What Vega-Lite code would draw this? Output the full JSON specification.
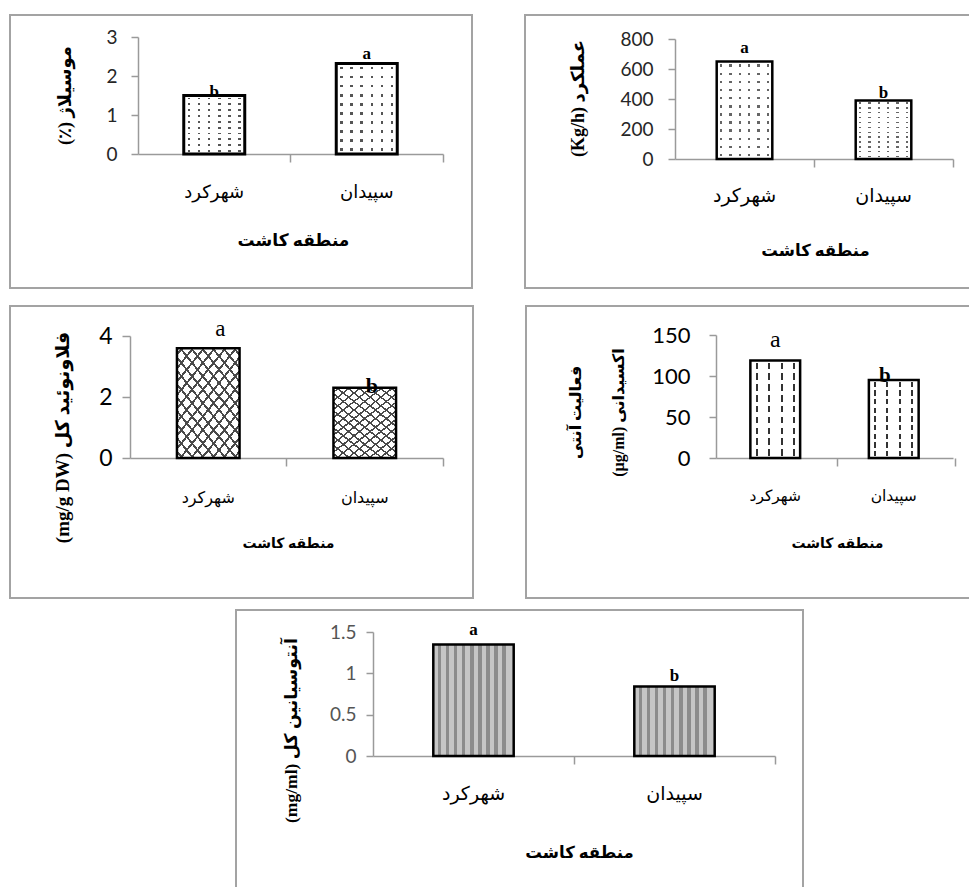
{
  "$schema": "https://vega.github.io/schema/vega-lite/v6.json",
  "padding": {"left": 9, "top": 14, "right": -3, "bottom": -4},
  "background": "white",
  "spacing": 10,
  "config": {
    "view": {"stroke": "#a3a3a3", "strokeWidth": 2},
    "axis": {"grid": false, "domainColor": "#9a9a9a", "tickColor": "#9a9a9a", "domainWidth": 1.5, "tickWidth": 1.5, "labelColor": "#262626", "titleColor": "#000", "titleFontWeight": "bold", "titleFont": "Liberation Serif, DejaVu Sans", "labelFont": "Lato", "titleAlign": "center", "titleBaseline": "middle"},
    "axisX": {"labelAngle": 0, "tickSize": 8, "labelFont": "DejaVu Sans", "labelBaseline": "middle", "labelColor": "#000", "bandPosition": 1.75},
    "axisY": {"tickSize": 7, "titleAngle": -90, "format": "~r"}
  },
  "vconcat": [
    {
      "spacing": 16,
      "vconcat": [
        {
          "spacing": 51,
          "hconcat": [
            {
              "width": 462, "height": 273,
              "data": {"values": [
                {"region": "شهرکرد", "value": 1.5, "letter": "b"},
                {"region": "سپیدان", "value": 2.32, "letter": "a"}
              ]},
              "encoding": {
                "x": {"field": "region", "type": "nominal", "sort": ["شهرکرد", "سپیدان"],
                  "scale": {"range": [128, 433], "paddingInner": 0.6, "paddingOuter": 0.3},
                  "axis": {"title": "منطقه کاشت", "offset": -134, "labelPadding": 30, "labelFontSize": 18, "titleFontSize": 17, "titleX": 283, "titleY": 86}},
                "y": {"field": "value", "type": "quantitative",
                  "scale": {"domain": [0, 3], "range": [139, 22], "nice": false},
                  "axis": {"title": "(٪) موسیلاژ", "values": [0, 1, 2, 3], "offset": -128, "labelPadding": 14, "labelFontSize": 19, "titleFontSize": 18, "titleX": -73, "titleY": 80}}
              },
              "layer": [
                {"mark": {"type": "bar", "fill": {"gradient": "linear", "x1": 0, "y1": 0, "x2": 1, "y2": 0, "stops": [
                  {"offset": 0, "color": "white"},
                  {"offset": 0.063, "color": "white"}, {"offset": 0.063, "color": "#555"}, {"offset": 0.103, "color": "#555"}, {"offset": 0.103, "color": "white"},
                  {"offset": 0.23, "color": "white"}, {"offset": 0.23, "color": "#555"}, {"offset": 0.27, "color": "#555"}, {"offset": 0.27, "color": "white"},
                  {"offset": 0.397, "color": "white"}, {"offset": 0.397, "color": "#555"}, {"offset": 0.437, "color": "#555"}, {"offset": 0.437, "color": "white"},
                  {"offset": 0.563, "color": "white"}, {"offset": 0.563, "color": "#555"}, {"offset": 0.603, "color": "#555"}, {"offset": 0.603, "color": "white"},
                  {"offset": 0.73, "color": "white"}, {"offset": 0.73, "color": "#555"}, {"offset": 0.77, "color": "#555"}, {"offset": 0.77, "color": "white"},
                  {"offset": 0.897, "color": "white"}, {"offset": 0.897, "color": "#555"}, {"offset": 0.937, "color": "#555"}, {"offset": 0.937, "color": "white"},
                  {"offset": 1, "color": "white"}]}}},
                {"mark": {"type": "bar", "stroke": "#000", "strokeWidth": 3, "fill": {"gradient": "linear", "x1": 0, "y1": 0, "x2": 0, "y2": 1, "stops": [
                  {"offset": 0, "color": "white"},
                  {"offset": 0.035, "color": "white"}, {"offset": 0.035, "color": "rgba(255,255,255,0)"}, {"offset": 0.065, "color": "rgba(255,255,255,0)"}, {"offset": 0.065, "color": "white"},
                  {"offset": 0.135, "color": "white"}, {"offset": 0.135, "color": "rgba(255,255,255,0)"}, {"offset": 0.165, "color": "rgba(255,255,255,0)"}, {"offset": 0.165, "color": "white"},
                  {"offset": 0.235, "color": "white"}, {"offset": 0.235, "color": "rgba(255,255,255,0)"}, {"offset": 0.265, "color": "rgba(255,255,255,0)"}, {"offset": 0.265, "color": "white"},
                  {"offset": 0.335, "color": "white"}, {"offset": 0.335, "color": "rgba(255,255,255,0)"}, {"offset": 0.365, "color": "rgba(255,255,255,0)"}, {"offset": 0.365, "color": "white"},
                  {"offset": 0.435, "color": "white"}, {"offset": 0.435, "color": "rgba(255,255,255,0)"}, {"offset": 0.465, "color": "rgba(255,255,255,0)"}, {"offset": 0.465, "color": "white"},
                  {"offset": 0.535, "color": "white"}, {"offset": 0.535, "color": "rgba(255,255,255,0)"}, {"offset": 0.565, "color": "rgba(255,255,255,0)"}, {"offset": 0.565, "color": "white"},
                  {"offset": 0.635, "color": "white"}, {"offset": 0.635, "color": "rgba(255,255,255,0)"}, {"offset": 0.665, "color": "rgba(255,255,255,0)"}, {"offset": 0.665, "color": "white"},
                  {"offset": 0.735, "color": "white"}, {"offset": 0.735, "color": "rgba(255,255,255,0)"}, {"offset": 0.765, "color": "rgba(255,255,255,0)"}, {"offset": 0.765, "color": "white"},
                  {"offset": 0.835, "color": "white"}, {"offset": 0.835, "color": "rgba(255,255,255,0)"}, {"offset": 0.865, "color": "rgba(255,255,255,0)"}, {"offset": 0.865, "color": "white"},
                  {"offset": 0.935, "color": "white"}, {"offset": 0.935, "color": "rgba(255,255,255,0)"}, {"offset": 0.965, "color": "rgba(255,255,255,0)"}, {"offset": 0.965, "color": "white"},
                  {"offset": 1, "color": "white"}]}}},
                {"transform": [{"filter": "datum.letter === 'a'"}],
                  "mark": {"type": "text", "font": "Liberation Serif", "fontWeight": "bold", "fontSize": 17, "baseline": "alphabetic", "dy": -5},
                  "encoding": {"text": {"field": "letter"}}},
                {"transform": [{"filter": "datum.letter === 'b'"}],
                  "mark": {"type": "text", "font": "Liberation Serif", "fontWeight": "bold", "fontSize": 17, "baseline": "alphabetic", "dy": 1},
                  "encoding": {"text": {"field": "letter"}}}
              ]
            },
            {
              "width": 446, "height": 273,
              "data": {"values": [
                {"region": "شهرکرد", "value": 650, "letter": "a"},
                {"region": "سپیدان", "value": 390, "letter": "b"}
              ]},
              "encoding": {
                "x": {"field": "region", "type": "nominal", "sort": ["شهرکرد", "سپیدان"],
                  "scale": {"range": [150, 428], "paddingInner": 0.6, "paddingOuter": 0.3},
                  "axis": {"title": "منطقه کاشت", "offset": -129, "labelPadding": 28, "labelFontSize": 19, "titleFontSize": 16.5, "titleX": 290, "titleY": 91}},
                "y": {"field": "value", "type": "quantitative",
                  "scale": {"domain": [0, 800], "range": [144, 24], "nice": false},
                  "axis": {"title": "(Kg/h) عملکرد", "values": [0, 200, 400, 600, 800], "offset": -150, "labelPadding": 15, "labelFontSize": 19, "titleFontSize": 18, "titleX": -97, "titleY": 83}}
              },
              "layer": [
                {"mark": {"type": "bar", "fill": {"gradient": "linear", "x1": 0, "y1": 0, "x2": 1, "y2": 0, "stops": [
                  {"offset": 0, "color": "white"},
                  {"offset": 0.063, "color": "white"}, {"offset": 0.063, "color": "#666"}, {"offset": 0.103, "color": "#666"}, {"offset": 0.103, "color": "white"},
                  {"offset": 0.23, "color": "white"}, {"offset": 0.23, "color": "#666"}, {"offset": 0.27, "color": "#666"}, {"offset": 0.27, "color": "white"},
                  {"offset": 0.397, "color": "white"}, {"offset": 0.397, "color": "#666"}, {"offset": 0.437, "color": "#666"}, {"offset": 0.437, "color": "white"},
                  {"offset": 0.563, "color": "white"}, {"offset": 0.563, "color": "#666"}, {"offset": 0.603, "color": "#666"}, {"offset": 0.603, "color": "white"},
                  {"offset": 0.73, "color": "white"}, {"offset": 0.73, "color": "#666"}, {"offset": 0.77, "color": "#666"}, {"offset": 0.77, "color": "white"},
                  {"offset": 0.897, "color": "white"}, {"offset": 0.897, "color": "#666"}, {"offset": 0.937, "color": "#666"}, {"offset": 0.937, "color": "white"},
                  {"offset": 1, "color": "white"}]}}},
                {"mark": {"type": "bar", "stroke": "#000", "strokeWidth": 2.5, "fill": {"gradient": "linear", "x1": 0, "y1": 0, "x2": 0, "y2": 1, "stops": [
                  {"offset": 0, "color": "white"},
                  {"offset": 0.03, "color": "white"}, {"offset": 0.03, "color": "rgba(255,255,255,0)"}, {"offset": 0.055, "color": "rgba(255,255,255,0)"}, {"offset": 0.055, "color": "white"},
                  {"offset": 0.113, "color": "white"}, {"offset": 0.113, "color": "rgba(255,255,255,0)"}, {"offset": 0.138, "color": "rgba(255,255,255,0)"}, {"offset": 0.138, "color": "white"},
                  {"offset": 0.197, "color": "white"}, {"offset": 0.197, "color": "rgba(255,255,255,0)"}, {"offset": 0.222, "color": "rgba(255,255,255,0)"}, {"offset": 0.222, "color": "white"},
                  {"offset": 0.28, "color": "white"}, {"offset": 0.28, "color": "rgba(255,255,255,0)"}, {"offset": 0.305, "color": "rgba(255,255,255,0)"}, {"offset": 0.305, "color": "white"},
                  {"offset": 0.363, "color": "white"}, {"offset": 0.363, "color": "rgba(255,255,255,0)"}, {"offset": 0.388, "color": "rgba(255,255,255,0)"}, {"offset": 0.388, "color": "white"},
                  {"offset": 0.447, "color": "white"}, {"offset": 0.447, "color": "rgba(255,255,255,0)"}, {"offset": 0.472, "color": "rgba(255,255,255,0)"}, {"offset": 0.472, "color": "white"},
                  {"offset": 0.53, "color": "white"}, {"offset": 0.53, "color": "rgba(255,255,255,0)"}, {"offset": 0.555, "color": "rgba(255,255,255,0)"}, {"offset": 0.555, "color": "white"},
                  {"offset": 0.613, "color": "white"}, {"offset": 0.613, "color": "rgba(255,255,255,0)"}, {"offset": 0.638, "color": "rgba(255,255,255,0)"}, {"offset": 0.638, "color": "white"},
                  {"offset": 0.697, "color": "white"}, {"offset": 0.697, "color": "rgba(255,255,255,0)"}, {"offset": 0.722, "color": "rgba(255,255,255,0)"}, {"offset": 0.722, "color": "white"},
                  {"offset": 0.78, "color": "white"}, {"offset": 0.78, "color": "rgba(255,255,255,0)"}, {"offset": 0.805, "color": "rgba(255,255,255,0)"}, {"offset": 0.805, "color": "white"},
                  {"offset": 0.863, "color": "white"}, {"offset": 0.863, "color": "rgba(255,255,255,0)"}, {"offset": 0.888, "color": "rgba(255,255,255,0)"}, {"offset": 0.888, "color": "white"},
                  {"offset": 0.947, "color": "white"}, {"offset": 0.947, "color": "rgba(255,255,255,0)"}, {"offset": 0.972, "color": "rgba(255,255,255,0)"}, {"offset": 0.972, "color": "white"},
                  {"offset": 1, "color": "white"}]}}},
                {"transform": [{"filter": "datum.letter === 'a'"}],
                  "mark": {"type": "text", "font": "Liberation Serif", "fontWeight": "bold", "fontSize": 17, "baseline": "alphabetic", "dy": -9},
                  "encoding": {"text": {"field": "letter"}}},
                {"transform": [{"filter": "datum.letter === 'b'"}],
                  "mark": {"type": "text", "font": "Liberation Serif", "fontWeight": "bold", "fontSize": 17, "baseline": "alphabetic", "dy": -3},
                  "encoding": {"text": {"field": "letter"}}}
              ]
            }
          ]
        },
        {
          "spacing": 51,
          "hconcat": [
            {
              "width": 463, "height": 292,
              "data": {"values": [
                {"region": "شهرکرد", "value": 3.6, "letter": "a"},
                {"region": "سپیدان", "value": 2.3, "letter": "b"}
              ]},
              "encoding": {
                "x": {"field": "region", "type": "nominal", "sort": ["شهرکرد", "سپیدان"],
                  "scale": {"range": [120, 433], "paddingInner": 0.6, "paddingOuter": 0.3},
                  "axis": {"title": "منطقه کاشت", "offset": -140, "labelPadding": 31, "labelFontSize": 16, "titleFontSize": 14, "titleX": 278, "titleY": 85}},
                "y": {"field": "value", "type": "quantitative",
                  "scale": {"domain": [0, 4], "range": [152, 30], "nice": false},
                  "axis": {"title": "(mg/g DW) فلاونوئید کل", "values": [0, 2, 4], "offset": -120, "labelPadding": 10, "tickSize": 8, "labelFontSize": 23, "labelColor": "#000", "titleFontSize": 19, "titleX": -68, "titleY": 131}}
              },
              "layer": [
                {"mark": {"type": "bar", "fill": {"gradient": "linear", "x1": 0, "y1": 0, "x2": 0.808, "y2": 1.1365, "stops": [
                  {"offset": 0, "color": "white"},
                  {"offset": 0.0277, "color": "white"}, {"offset": 0.0277, "color": "#4a4a4a"}, {"offset": 0.0437, "color": "#4a4a4a"}, {"offset": 0.0437, "color": "white"},
                  {"offset": 0.0991, "color": "white"}, {"offset": 0.0991, "color": "#4a4a4a"}, {"offset": 0.1151, "color": "#4a4a4a"}, {"offset": 0.1151, "color": "white"},
                  {"offset": 0.1706, "color": "white"}, {"offset": 0.1706, "color": "#4a4a4a"}, {"offset": 0.1866, "color": "#4a4a4a"}, {"offset": 0.1866, "color": "white"},
                  {"offset": 0.242, "color": "white"}, {"offset": 0.242, "color": "#4a4a4a"}, {"offset": 0.258, "color": "#4a4a4a"}, {"offset": 0.258, "color": "white"},
                  {"offset": 0.3134, "color": "white"}, {"offset": 0.3134, "color": "#4a4a4a"}, {"offset": 0.3294, "color": "#4a4a4a"}, {"offset": 0.3294, "color": "white"},
                  {"offset": 0.3849, "color": "white"}, {"offset": 0.3849, "color": "#4a4a4a"}, {"offset": 0.4009, "color": "#4a4a4a"}, {"offset": 0.4009, "color": "white"},
                  {"offset": 0.4563, "color": "white"}, {"offset": 0.4563, "color": "#4a4a4a"}, {"offset": 0.4723, "color": "#4a4a4a"}, {"offset": 0.4723, "color": "white"},
                  {"offset": 0.5277, "color": "white"}, {"offset": 0.5277, "color": "#4a4a4a"}, {"offset": 0.5437, "color": "#4a4a4a"}, {"offset": 0.5437, "color": "white"},
                  {"offset": 0.5991, "color": "white"}, {"offset": 0.5991, "color": "#4a4a4a"}, {"offset": 0.6151, "color": "#4a4a4a"}, {"offset": 0.6151, "color": "white"},
                  {"offset": 0.6706, "color": "white"}, {"offset": 0.6706, "color": "#4a4a4a"}, {"offset": 0.6866, "color": "#4a4a4a"}, {"offset": 0.6866, "color": "white"},
                  {"offset": 0.742, "color": "white"}, {"offset": 0.742, "color": "#4a4a4a"}, {"offset": 0.758, "color": "#4a4a4a"}, {"offset": 0.758, "color": "white"},
                  {"offset": 0.8134, "color": "white"}, {"offset": 0.8134, "color": "#4a4a4a"}, {"offset": 0.8294, "color": "#4a4a4a"}, {"offset": 0.8294, "color": "white"},
                  {"offset": 0.8849, "color": "white"}, {"offset": 0.8849, "color": "#4a4a4a"}, {"offset": 0.9009, "color": "#4a4a4a"}, {"offset": 0.9009, "color": "white"},
                  {"offset": 0.9563, "color": "white"}, {"offset": 0.9563, "color": "#4a4a4a"}, {"offset": 0.9723, "color": "#4a4a4a"}, {"offset": 0.9723, "color": "white"},
                  {"offset": 1, "color": "white"}]}}},
                {"mark": {"type": "bar", "stroke": "#000", "strokeWidth": 2.5, "fill": {"gradient": "linear", "x1": 1, "y1": 0, "x2": 0.192, "y2": 1.1365, "stops": [
                  {"offset": 0, "color": "rgba(255,255,255,0)"},
                  {"offset": 0.0277, "color": "rgba(255,255,255,0)"}, {"offset": 0.0277, "color": "#4a4a4a"}, {"offset": 0.0437, "color": "#4a4a4a"}, {"offset": 0.0437, "color": "rgba(255,255,255,0)"},
                  {"offset": 0.0991, "color": "rgba(255,255,255,0)"}, {"offset": 0.0991, "color": "#4a4a4a"}, {"offset": 0.1151, "color": "#4a4a4a"}, {"offset": 0.1151, "color": "rgba(255,255,255,0)"},
                  {"offset": 0.1706, "color": "rgba(255,255,255,0)"}, {"offset": 0.1706, "color": "#4a4a4a"}, {"offset": 0.1866, "color": "#4a4a4a"}, {"offset": 0.1866, "color": "rgba(255,255,255,0)"},
                  {"offset": 0.242, "color": "rgba(255,255,255,0)"}, {"offset": 0.242, "color": "#4a4a4a"}, {"offset": 0.258, "color": "#4a4a4a"}, {"offset": 0.258, "color": "rgba(255,255,255,0)"},
                  {"offset": 0.3134, "color": "rgba(255,255,255,0)"}, {"offset": 0.3134, "color": "#4a4a4a"}, {"offset": 0.3294, "color": "#4a4a4a"}, {"offset": 0.3294, "color": "rgba(255,255,255,0)"},
                  {"offset": 0.3849, "color": "rgba(255,255,255,0)"}, {"offset": 0.3849, "color": "#4a4a4a"}, {"offset": 0.4009, "color": "#4a4a4a"}, {"offset": 0.4009, "color": "rgba(255,255,255,0)"},
                  {"offset": 0.4563, "color": "rgba(255,255,255,0)"}, {"offset": 0.4563, "color": "#4a4a4a"}, {"offset": 0.4723, "color": "#4a4a4a"}, {"offset": 0.4723, "color": "rgba(255,255,255,0)"},
                  {"offset": 0.5277, "color": "rgba(255,255,255,0)"}, {"offset": 0.5277, "color": "#4a4a4a"}, {"offset": 0.5437, "color": "#4a4a4a"}, {"offset": 0.5437, "color": "rgba(255,255,255,0)"},
                  {"offset": 0.5991, "color": "rgba(255,255,255,0)"}, {"offset": 0.5991, "color": "#4a4a4a"}, {"offset": 0.6151, "color": "#4a4a4a"}, {"offset": 0.6151, "color": "rgba(255,255,255,0)"},
                  {"offset": 0.6706, "color": "rgba(255,255,255,0)"}, {"offset": 0.6706, "color": "#4a4a4a"}, {"offset": 0.6866, "color": "#4a4a4a"}, {"offset": 0.6866, "color": "rgba(255,255,255,0)"},
                  {"offset": 0.742, "color": "rgba(255,255,255,0)"}, {"offset": 0.742, "color": "#4a4a4a"}, {"offset": 0.758, "color": "#4a4a4a"}, {"offset": 0.758, "color": "rgba(255,255,255,0)"},
                  {"offset": 0.8134, "color": "rgba(255,255,255,0)"}, {"offset": 0.8134, "color": "#4a4a4a"}, {"offset": 0.8294, "color": "#4a4a4a"}, {"offset": 0.8294, "color": "rgba(255,255,255,0)"},
                  {"offset": 0.8849, "color": "rgba(255,255,255,0)"}, {"offset": 0.8849, "color": "#4a4a4a"}, {"offset": 0.9009, "color": "#4a4a4a"}, {"offset": 0.9009, "color": "rgba(255,255,255,0)"},
                  {"offset": 0.9563, "color": "rgba(255,255,255,0)"}, {"offset": 0.9563, "color": "#4a4a4a"}, {"offset": 0.9723, "color": "#4a4a4a"}, {"offset": 0.9723, "color": "rgba(255,255,255,0)"},
                  {"offset": 1, "color": "rgba(255,255,255,0)"}]}}},
                {"transform": [{"filter": "datum.letter === 'a'"}],
                  "mark": {"type": "text", "font": "Liberation Serif", "fontWeight": "normal", "fontSize": 23, "baseline": "alphabetic", "dy": -12, "dx": 12},
                  "encoding": {"text": {"field": "letter"}}},
                {"transform": [{"filter": "datum.letter === 'b'"}],
                  "mark": {"type": "text", "font": "Liberation Serif", "fontWeight": "bold", "fontSize": 22, "baseline": "alphabetic", "dy": 5, "dx": 7},
                  "encoding": {"text": {"field": "letter"}}}
              ]
            },
            {
              "width": 445, "height": 292,
              "data": {"values": [
                {"region": "شهرکرد", "value": 119, "letter": "a"},
                {"region": "سپیدان", "value": 95, "letter": "b"}
              ]},
              "encoding": {
                "x": {"field": "region", "type": "nominal", "sort": ["شهرکرد", "سپیدان"],
                  "scale": {"range": [190, 427], "paddingInner": 0.58, "paddingOuter": 0.29},
                  "axis": {"title": "منطقه کاشت", "offset": -140, "labelPadding": 29, "labelFontSize": 15.5, "titleFontSize": 14, "titleX": 311, "titleY": 85}},
                "y": {"field": "value", "type": "quantitative",
                  "scale": {"domain": [0, 150], "range": [152, 29], "nice": false},
                  "axis": {"title": ["فعالیت آنتی", "(µg/ml) اکسیدانی"], "titleLineHeight": 43, "titleFontSize": 16, "values": [0, 50, 100, 150], "offset": -190, "labelPadding": 19, "labelFontSize": 22, "labelColor": "#000", "titleX": -140.5, "titleY": 106}}
              },
              "layer": [
                {"mark": {"type": "bar", "fill": {"gradient": "linear", "x1": 0, "y1": 0, "x2": 1, "y2": 0, "stops": [
                  {"offset": 0, "color": "white"},
                  {"offset": 0.1075, "color": "white"}, {"offset": 0.1075, "color": "#333"}, {"offset": 0.1525, "color": "#333"}, {"offset": 0.1525, "color": "white"},
                  {"offset": 0.3475, "color": "white"}, {"offset": 0.3475, "color": "#333"}, {"offset": 0.3925, "color": "#333"}, {"offset": 0.3925, "color": "white"},
                  {"offset": 0.6075, "color": "white"}, {"offset": 0.6075, "color": "#333"}, {"offset": 0.6525, "color": "#333"}, {"offset": 0.6525, "color": "white"},
                  {"offset": 0.8475, "color": "white"}, {"offset": 0.8475, "color": "#333"}, {"offset": 0.8925, "color": "#333"}, {"offset": 0.8925, "color": "white"},
                  {"offset": 1, "color": "white"}]}}},
                {"mark": {"type": "bar", "stroke": "#000", "strokeWidth": 2.5, "fill": {"gradient": "linear", "x1": 0, "y1": 0, "x2": 0, "y2": 1, "stops": [
                  {"offset": 0, "color": "white"},
                  {"offset": 0.022, "color": "white"}, {"offset": 0.022, "color": "rgba(255,255,255,0)"}, {"offset": 0.089, "color": "rgba(255,255,255,0)"}, {"offset": 0.089, "color": "white"},
                  {"offset": 0.133, "color": "white"}, {"offset": 0.133, "color": "rgba(255,255,255,0)"}, {"offset": 0.2, "color": "rgba(255,255,255,0)"}, {"offset": 0.2, "color": "white"},
                  {"offset": 0.244, "color": "white"}, {"offset": 0.244, "color": "rgba(255,255,255,0)"}, {"offset": 0.311, "color": "rgba(255,255,255,0)"}, {"offset": 0.311, "color": "white"},
                  {"offset": 0.356, "color": "white"}, {"offset": 0.356, "color": "rgba(255,255,255,0)"}, {"offset": 0.422, "color": "rgba(255,255,255,0)"}, {"offset": 0.422, "color": "white"},
                  {"offset": 0.467, "color": "white"}, {"offset": 0.467, "color": "rgba(255,255,255,0)"}, {"offset": 0.533, "color": "rgba(255,255,255,0)"}, {"offset": 0.533, "color": "white"},
                  {"offset": 0.578, "color": "white"}, {"offset": 0.578, "color": "rgba(255,255,255,0)"}, {"offset": 0.644, "color": "rgba(255,255,255,0)"}, {"offset": 0.644, "color": "white"},
                  {"offset": 0.689, "color": "white"}, {"offset": 0.689, "color": "rgba(255,255,255,0)"}, {"offset": 0.756, "color": "rgba(255,255,255,0)"}, {"offset": 0.756, "color": "white"},
                  {"offset": 0.8, "color": "white"}, {"offset": 0.8, "color": "rgba(255,255,255,0)"}, {"offset": 0.867, "color": "rgba(255,255,255,0)"}, {"offset": 0.867, "color": "white"},
                  {"offset": 0.911, "color": "white"}, {"offset": 0.911, "color": "rgba(255,255,255,0)"}, {"offset": 0.978, "color": "rgba(255,255,255,0)"}, {"offset": 0.978, "color": "white"},
                  {"offset": 1, "color": "white"}]}}},
                {"transform": [{"filter": "datum.letter === 'a'"}],
                  "mark": {"type": "text", "font": "Liberation Serif", "fontWeight": "normal", "fontSize": 24, "baseline": "alphabetic", "dy": -13},
                  "encoding": {"text": {"field": "letter"}}},
                {"transform": [{"filter": "datum.letter === 'b'"}],
                  "mark": {"type": "text", "font": "Liberation Serif", "fontWeight": "bold", "fontSize": 21, "baseline": "alphabetic", "dy": 2, "dx": -9},
                  "encoding": {"text": {"field": "letter"}}}
              ]
            }
          ]
        }
      ]
    },
    {
      "spacing": 0,
      "hconcat": [
        {
          "width": 225, "height": 10,
          "data": {"values": []},
          "mark": "point",
          "view": {"fill": "white", "stroke": null}
        },
        {
          "width": 567, "height": 280,
          "data": {"values": [
            {"region": "شهرکرد", "value": 1.35, "letter": "a"},
            {"region": "سپیدان", "value": 0.84, "letter": "b"}
          ]},
          "encoding": {
            "x": {"field": "region", "type": "nominal", "sort": ["شهرکرد", "سپیدان"],
              "scale": {"range": [137, 539], "paddingInner": 0.6, "paddingOuter": 0.3},
              "axis": {"title": "منطقه کاشت", "offset": -134, "labelPadding": 29, "labelFontSize": 19, "titleFontSize": 16.5, "titleX": 343, "titleY": 96}},
            "y": {"field": "value", "type": "quantitative",
              "scale": {"domain": [0, 1.5], "range": [146, 22], "nice": false},
              "axis": {"title": "(mg/ml) آنتوسیانین کل", "values": [0, 0.5, 1, 1.5], "offset": -137, "labelPadding": 10, "labelFontSize": 19, "labelColor": "#555", "titleFontSize": 17.5, "titleX": -82, "titleY": 120}}
          },
          "layer": [
            {"mark": {"type": "bar", "stroke": "#000", "strokeWidth": 2.5, "fill": {"gradient": "linear", "x1": 0, "y1": 0, "x2": 1, "y2": 0, "stops": [
              {"offset": 0, "color": "#c6c6c6"},
              {"offset": 0.06, "color": "#c6c6c6"}, {"offset": 0.06, "color": "#8c8c8c"}, {"offset": 0.1, "color": "#8c8c8c"}, {"offset": 0.1, "color": "#c6c6c6"},
              {"offset": 0.16, "color": "#c6c6c6"}, {"offset": 0.16, "color": "#8c8c8c"}, {"offset": 0.2, "color": "#8c8c8c"}, {"offset": 0.2, "color": "#c6c6c6"},
              {"offset": 0.26, "color": "#c6c6c6"}, {"offset": 0.26, "color": "#8c8c8c"}, {"offset": 0.3, "color": "#8c8c8c"}, {"offset": 0.3, "color": "#c6c6c6"},
              {"offset": 0.36, "color": "#c6c6c6"}, {"offset": 0.36, "color": "#8c8c8c"}, {"offset": 0.4, "color": "#8c8c8c"}, {"offset": 0.4, "color": "#c6c6c6"},
              {"offset": 0.46, "color": "#c6c6c6"}, {"offset": 0.46, "color": "#8c8c8c"}, {"offset": 0.5, "color": "#8c8c8c"}, {"offset": 0.5, "color": "#c6c6c6"},
              {"offset": 0.56, "color": "#c6c6c6"}, {"offset": 0.56, "color": "#8c8c8c"}, {"offset": 0.6, "color": "#8c8c8c"}, {"offset": 0.6, "color": "#c6c6c6"},
              {"offset": 0.66, "color": "#c6c6c6"}, {"offset": 0.66, "color": "#8c8c8c"}, {"offset": 0.7, "color": "#8c8c8c"}, {"offset": 0.7, "color": "#c6c6c6"},
              {"offset": 0.76, "color": "#c6c6c6"}, {"offset": 0.76, "color": "#8c8c8c"}, {"offset": 0.8, "color": "#8c8c8c"}, {"offset": 0.8, "color": "#c6c6c6"},
              {"offset": 0.86, "color": "#c6c6c6"}, {"offset": 0.86, "color": "#8c8c8c"}, {"offset": 0.9, "color": "#8c8c8c"}, {"offset": 0.9, "color": "#c6c6c6"},
              {"offset": 1, "color": "#c6c6c6"}]}}},
            {"transform": [{"filter": "datum.letter === 'a'"}],
              "mark": {"type": "text", "font": "Liberation Serif", "fontWeight": "bold", "fontSize": 17, "baseline": "alphabetic", "dy": -9},
              "encoding": {"text": {"field": "letter"}}},
            {"transform": [{"filter": "datum.letter === 'b'"}],
              "mark": {"type": "text", "font": "Liberation Serif", "fontWeight": "bold", "fontSize": 17, "baseline": "alphabetic", "dy": -6},
              "encoding": {"text": {"field": "letter"}}}
          ]
        }
      ]
    }
  ]
}
